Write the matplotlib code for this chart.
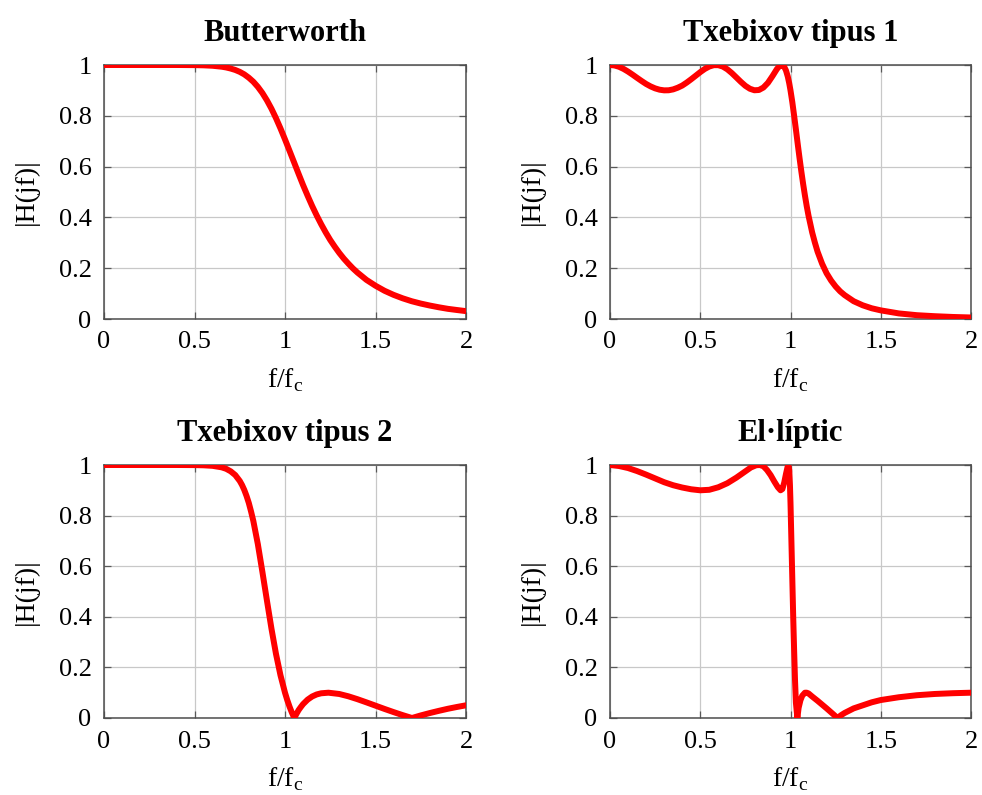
import matplotlib
matplotlib.use("Agg")
import matplotlib.pyplot as plt

plt.rcParams['font.family'] = ['Liberation Serif', 'DejaVu Serif']
plt.rcParams['mathtext.fontset'] = 'custom'
plt.rcParams['mathtext.rm'] = 'Liberation Serif'

# Butterworth
bw_f = [0, 0.1, 0.2, 0.3, 0.4, 0.5, 0.55, 0.6, 0.65, 0.675, 0.7, 0.725, 0.75, 0.775, 0.8,
        0.825, 0.85, 0.875, 0.9, 0.925, 0.95, 0.975, 1.0, 1.025, 1.05, 1.075, 1.1, 1.125,
        1.15, 1.175, 1.2, 1.225, 1.25, 1.275, 1.3, 1.325, 1.35, 1.375, 1.4, 1.45, 1.5, 1.55,
        1.6, 1.65, 1.7, 1.75, 1.8, 1.85, 1.9, 1.95, 2.0]
bw_h = [1.0, 1.0, 1.0, 1.0, 1.0, 0.9995, 0.9987, 0.997, 0.9933, 0.9903, 0.986, 0.9805, 0.973,
        0.9631, 0.950, 0.9341, 0.914, 0.8898, 0.861, 0.8281, 0.791, 0.7504, 0.707, 0.6622,
        0.617, 0.5716, 0.527, 0.4852, 0.445, 0.4077, 0.373, 0.3408, 0.311, 0.2846, 0.260,
        0.2378, 0.218, 0.1994, 0.183, 0.154, 0.131, 0.1111, 0.095, 0.0815, 0.070, 0.0608,
        0.053, 0.0461, 0.040, 0.0354, 0.031]

# Txebixov tipus 1
c1_f = [0, 0.025, 0.05, 0.075, 0.1, 0.125, 0.15, 0.175, 0.2, 0.225, 0.25, 0.275, 0.3, 0.325,
        0.35, 0.375, 0.4, 0.425, 0.45, 0.475, 0.5, 0.525, 0.55, 0.575, 0.6, 0.625, 0.65,
        0.675, 0.7, 0.725, 0.75, 0.775, 0.8, 0.825, 0.85, 0.875, 0.9, 0.925, 0.94, 0.955,
        0.965, 0.975, 0.985, 0.993, 1.0, 1.01, 1.02, 1.03, 1.04, 1.05, 1.06, 1.07, 1.08,
        1.09, 1.1, 1.12, 1.135, 1.15, 1.175, 1.2, 1.225, 1.25, 1.275, 1.3, 1.35, 1.4, 1.45,
        1.5, 1.6, 1.7, 1.8, 1.9, 2.0]
c1_h = [1.0, 0.9982, 0.9929, 0.9846, 0.974, 0.962, 0.9494, 0.9371, 0.9254, 0.9157, 0.908,
        0.9027, 0.9002, 0.9005, 0.904, 0.9105, 0.919, 0.9308, 0.944, 0.9579, 0.9719, 0.9844,
        0.994, 0.9993, 0.9993, 0.9938, 0.983, 0.9681, 0.951, 0.9337, 0.918, 0.9065, 0.9005,
        0.9016, 0.9113, 0.9298, 0.9561, 0.9844, 0.9967, 0.9995, 0.9932, 0.9785, 0.9543,
        0.9279, 0.9, 0.854, 0.801, 0.746, 0.689, 0.634, 0.581, 0.5316, 0.486, 0.4438, 0.406,
        0.341, 0.301, 0.265, 0.2177, 0.180, 0.1513, 0.128, 0.1089, 0.094, 0.070, 0.054,
        0.0422, 0.034, 0.022, 0.015, 0.011, 0.008, 0.006]

# Txebixov tipus 2
c2_f = [0, 0.1, 0.2, 0.3, 0.4, 0.5, 0.55, 0.6, 0.65, 0.675, 0.7, 0.725, 0.75, 0.7625, 0.775,
        0.7875, 0.8, 0.8125, 0.825, 0.85, 0.875, 0.9, 0.925, 0.95, 0.975, 1.0, 1.0125, 1.025,
        1.0375, 1.0515, 1.0625, 1.075, 1.0875, 1.1, 1.125, 1.15, 1.175, 1.2, 1.24, 1.3, 1.35,
        1.4, 1.45, 1.5, 1.55, 1.6, 1.65, 1.7015, 1.75, 1.8, 1.85, 1.9, 1.95, 2.0]
c2_h = [1.0, 1.0, 1.0, 1.0, 1.0, 0.9996, 0.9988, 0.9967, 0.9908, 0.9849, 0.975, 0.9604, 0.937,
        0.921, 0.9014, 0.8777, 0.850, 0.8161, 0.779, 0.687, 0.578, 0.465, 0.354, 0.254, 0.169,
        0.100, 0.0708, 0.045, 0.0221, 0.0, 0.0153, 0.031, 0.0435, 0.055, 0.0726, 0.085,
        0.0931, 0.0977, 0.100, 0.0949, 0.0858, 0.0744, 0.0618, 0.0488, 0.0358, 0.0233,
        0.0114, 0.0, 0.0101, 0.0196, 0.0283, 0.0365, 0.0436, 0.0502]

# El·líptic
el_f = [0, 0.05, 0.1, 0.15, 0.2, 0.25, 0.3, 0.35, 0.4, 0.45, 0.5, 0.55, 0.6, 0.65, 0.7, 0.75,
        0.78, 0.81, 0.83, 0.85, 0.87, 0.89, 0.91, 0.93, 0.945, 0.955, 0.965, 0.975, 0.983,
        0.988, 0.993, 0.997, 1.0, 1.005, 1.01, 1.015, 1.02, 1.025, 1.03, 1.038, 1.045, 1.055,
        1.065, 1.08, 1.09, 1.1, 1.12, 1.15, 1.2, 1.24, 1.26, 1.28, 1.3, 1.35, 1.4, 1.45, 1.5,
        1.6, 1.7, 1.8, 1.9, 2.0]
el_h = [1.0, 0.996, 0.988, 0.976, 0.962, 0.947, 0.932, 0.92, 0.911, 0.904, 0.9, 0.902, 0.912,
        0.928, 0.95, 0.975, 0.99, 0.999, 1.0, 0.995, 0.98, 0.96, 0.935, 0.912, 0.9, 0.905,
        0.93, 0.965, 0.99, 1.0, 0.98, 0.92, 0.85, 0.7, 0.55, 0.4, 0.27, 0.15, 0.06, 0.0,
        0.04, 0.07, 0.088, 0.1, 0.1, 0.097, 0.085, 0.068, 0.038, 0.013, 0.0, 0.011, 0.02,
        0.038, 0.05, 0.062, 0.071, 0.082, 0.09, 0.095, 0.098, 0.1]

titles = ["Butterworth", "Txebixov tipus 1", "Txebixov tipus 2", "El·líptic"]
series = [(bw_f, bw_h), (c1_f, c1_h), (c2_f, c2_h), (el_f, el_h)]
x_ticks = [0, 0.5, 1, 1.5, 2]
x_ticklabels = ["0", "0.5", "1", "1.5", "2"]
y_ticks = [0, 0.2, 0.4, 0.6, 0.8, 1]
y_ticklabels = ["0", "0.2", "0.4", "0.6", "0.8", "1"]

W, H = 982, 795
fig = plt.figure(figsize=(W / 100, H / 100), dpi=100)

# axes boxes in pixels: left, top, right, bottom
boxes = [(104, 65, 466, 319), (610, 65, 971, 319),
         (104, 465, 466, 718), (610, 465, 971, 718)]

for (l, t, r, b), title, (f, h) in zip(boxes, titles, series):
    ax = fig.add_axes([l / W, 1 - b / H, (r - l) / W, (b - t) / H])
    ax.plot(f, h, color='red', lw=4.3, solid_joinstyle='round', solid_capstyle='round', zorder=3)
    ax.set_xlim(0, 2)
    ax.set_ylim(0, 1)
    ax.set_xticks(x_ticks)
    ax.set_xticklabels(x_ticklabels)
    ax.set_yticks(y_ticks)
    ax.set_yticklabels(y_ticklabels)
    ax.grid(True, color='#c8c8c8', lw=0.9)
    ax.set_axisbelow(True)
    ax.tick_params(direction='in', top=True, right=True, length=5, width=0.9,
                   color='0.35', labelsize=19, pad=9)
    for sp in ax.spines.values():
        sp.set_color('0.3')
        sp.set_linewidth(1.1)
    ax.set_title(title, fontsize=22, fontweight='bold', pad=17)
    ax.set_xlabel(r'f/f$_{\mathrm{c}}$', fontsize=20, labelpad=9)
    ax.set_ylabel('|H(jf)|', fontsize=20, labelpad=14)

fig.savefig("out.png", dpi=100)
